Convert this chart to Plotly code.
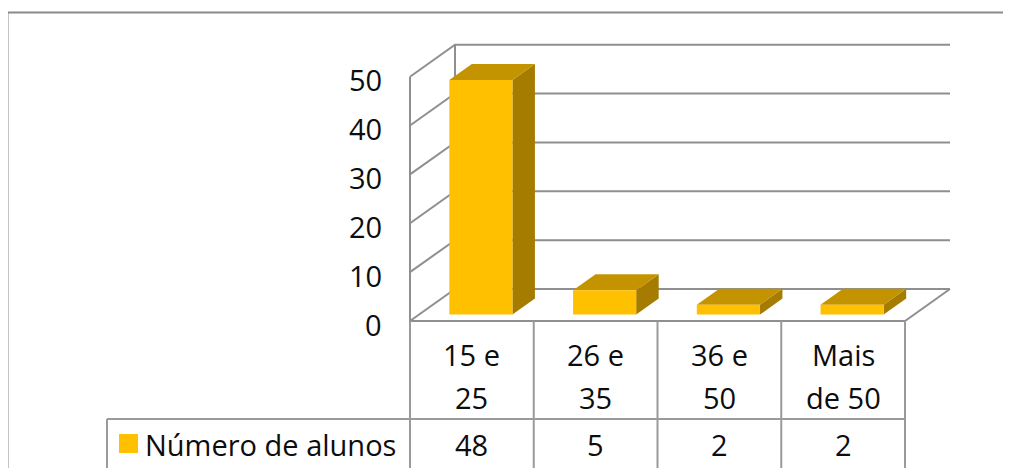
import plotly.graph_objects as go

# ---- data ----
categories = ["15 e<br>25", "26 e<br>35", "36 e<br>50", "Mais<br>de 50"]
values = [48, 5, 2, 2]
series_name = "Número de alunos"
y_ticks = [0, 10, 20, 30, 40, 50]

# ---- styling / geometry ----
W, H = 1011, 468
PAGE_OFF = 8.0           # default body margin of the page
FRONT_X0_PX = 410.0      # pixel of x=0 (left front corner of floor), in window coords
PX_PER_X = 123.75        # pixels per category
ZERO_PX = 321.0          # pixel (from top) of value 0 on front plane
PX_PER_V = 4.886         # pixels per value unit
DEPTH_X = 45.0 / PX_PER_X
DEPTH_V = 32.0 / PX_PER_V
BAR_W = 0.51
BAR_D0, BAR_D1 = 0.2, 0.7

FRONT = "#FFC000"
SIDE = "#A67C00"
TOP = "#C49300"
GRID = "#8f8f8f"
TABLE = "#9a9a9a"
TXT = "#0d0d0d"
FONT = "Open Sans, sans-serif"
FS = 29


def px_to_x(px):
    return (px - FRONT_X0_PX) / PX_PER_X


def py_to_v(py):
    return (ZERO_PX - py) / PX_PER_V


n = len(categories)
vmax = max(y_ticks)
fig = go.Figure()

# gridlines: left wall diagonal + back wall horizontal
for t in y_ticks:
    fig.add_trace(go.Scatter(
        x=[0, DEPTH_X, n + DEPTH_X], y=[t, t + DEPTH_V, t + DEPTH_V],
        mode="lines", line=dict(color=GRID, width=2), hoverinfo="skip", showlegend=False))
# wall vertical edges
fig.add_trace(go.Scatter(x=[0, 0], y=[0, vmax], mode="lines",
                         line=dict(color=GRID, width=2), hoverinfo="skip", showlegend=False))
fig.add_trace(go.Scatter(x=[DEPTH_X, DEPTH_X], y=[DEPTH_V, vmax + DEPTH_V], mode="lines",
                         line=dict(color=GRID, width=2), hoverinfo="skip", showlegend=False))
# floor
fig.add_trace(go.Scatter(x=[0, n, n + DEPTH_X], y=[0, 0, DEPTH_V], mode="lines",
                         line=dict(color=GRID, width=2), hoverinfo="skip", showlegend=False))

# bars
dxb = (BAR_D1 - BAR_D0) * DEPTH_X
dvb = (BAR_D1 - BAR_D0) * DEPTH_V
for i, v in enumerate(values):
    cx = i + 0.5 + BAR_D0 * DEPTH_X
    xl, xr = cx - BAR_W / 2, cx + BAR_W / 2
    yb = BAR_D0 * DEPTH_V
    yt = v + yb
    fig.add_trace(go.Scatter(x=[xr, xr + dxb, xr + dxb, xr, xr], y=[yb, yb + dvb, yt + dvb, yt, yb],
                             fill="toself", fillcolor=SIDE, mode="lines", line=dict(width=0),
                             hoverinfo="skip", showlegend=False))
    fig.add_trace(go.Scatter(x=[xl, xr, xr + dxb, xl + dxb, xl], y=[yt, yt, yt + dvb, yt + dvb, yt],
                             fill="toself", fillcolor=TOP, mode="lines", line=dict(width=0),
                             hoverinfo="skip", showlegend=False))
    fig.add_trace(go.Scatter(x=[xl, xr, xr, xl, xl], y=[yb, yb, yt, yt, yb],
                             fill="toself", fillcolor=FRONT, mode="lines", line=dict(width=0),
                             hoverinfo="skip", showlegend=False))

# y tick labels
for t in y_ticks:
    fig.add_annotation(x=px_to_x(384), y=t, text=str(t), showarrow=False, xanchor="right",
                       yanchor="middle", yshift=-3, font=dict(family=FONT, size=FS, color=TXT))

# data table
row1_v = py_to_v(419)
bottom_v = py_to_v(490)
legend_left = px_to_x(107)
shapes = []
for k in range(n + 1):
    shapes.append(dict(type="line", x0=k, x1=k, y0=0, y1=bottom_v, xref="x", yref="y",
                       line=dict(color=TABLE, width=2)))
shapes.append(dict(type="line", x0=legend_left, x1=n, y0=row1_v, y1=row1_v, xref="x", yref="y",
                   line=dict(color=TABLE, width=2)))
shapes.append(dict(type="line", x0=legend_left, x1=legend_left, y0=row1_v, y1=bottom_v,
                   xref="x", yref="y", line=dict(color=TABLE, width=2)))
# outer chart border (left + top)
bx = px_to_x(7.5)
by = py_to_v(12.5)
shapes.append(dict(type="line", xref="x", yref="y", x0=bx, x1=px_to_x(W + 20),
                   y0=by, y1=by, line=dict(color="#8a8a8a", width=2)))
shapes.append(dict(type="line", xref="x", yref="y", x0=bx, x1=bx,
                   y0=py_to_v(H + 20), y1=by, line=dict(color="#8a8a8a", width=2)))

line_v = [py_to_v(354), py_to_v(397)]
for i, c in enumerate(categories):
    for j, part in enumerate(c.split("<br>")):
        fig.add_annotation(x=i + 0.5, y=line_v[j], text=part, showarrow=False,
                           xanchor="center", yanchor="middle",
                           font=dict(family=FONT, size=FS, color=TXT))
val_v = py_to_v(444)
for i, v in enumerate(values):
    fig.add_annotation(x=i + 0.5, y=val_v, text=str(v), showarrow=False,
                       xanchor="center", yanchor="middle",
                       font=dict(family=FONT, size=FS, color=TXT))

# legend key + label in table
fig.add_trace(go.Scatter(x=[px_to_x(128.5)], y=[py_to_v(443.5)], mode="markers",
                         marker=dict(symbol="square", size=19, color=FRONT, line=dict(width=0)),
                         hoverinfo="skip", showlegend=False))
fig.add_annotation(x=px_to_x(143), y=val_v, text=series_name, showarrow=False,
                   xanchor="left", yanchor="middle", font=dict(family=FONT, size=FS, color=TXT))

# axis ranges chosen so that the plot area (shifted by the page margin) matches window pixels
fig.update_layout(
    width=W, height=H, margin=dict(l=0, r=0, t=0, b=0),
    paper_bgcolor="white", plot_bgcolor="white",
    xaxis=dict(range=[px_to_x(PAGE_OFF), px_to_x(PAGE_OFF + W)], visible=False, fixedrange=True),
    yaxis=dict(range=[py_to_v(PAGE_OFF + H), py_to_v(PAGE_OFF)], visible=False, fixedrange=True),
    shapes=shapes, showlegend=False,
)
fig.write_html("out.html")
